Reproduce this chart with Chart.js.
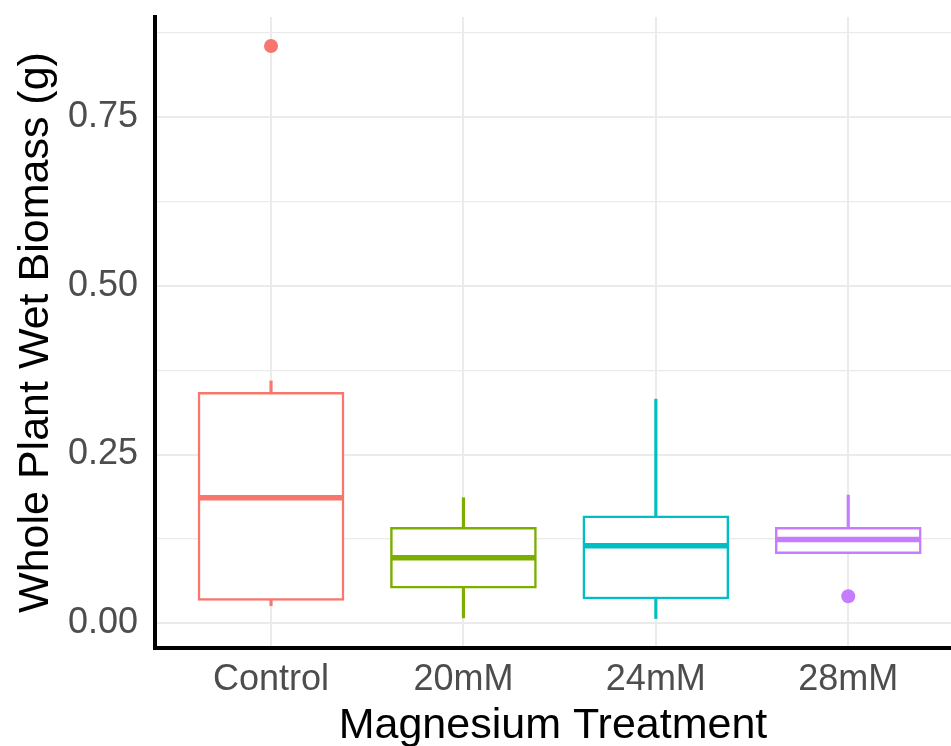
<!DOCTYPE html>
<html>
<head>
<meta charset="utf-8">
<script src="https://cdn.jsdelivr.net/npm/chart.js@4.4.0/dist/chart.umd.min.js"></script>
<style>
  html, body { margin: 0; padding: 0; background: #fff; }
  #wrap { width: 951px; height: 746px; position: relative; }
</style>
</head>
<body>
<div id="wrap"><canvas id="biomassChart"></canvas></div>
<script>
// boxplot stats (g)
const treatments = ['Control', '20mM', '24mM', '28mM'];
const whiskerLow = [0.026, 0.008, 0.007, 0.103];
const q1 = [0.034, 0.052, 0.036, 0.103];
const medians = [0.186, 0.097, 0.115, 0.124];
const q3 = [0.342, 0.142, 0.159, 0.142];
const whiskerHigh = [0.359, 0.186, 0.332, 0.190];
const outlierGroup = [1, 4];
const outlierValue = [0.855, 0.040];
const yTicks = [0, 0.125, 0.25, 0.375, 0.5, 0.625, 0.75, 0.875];

const colors = ['#F8766D', '#7CAE00', '#00BFC4', '#C77CFF'];
const FONT = '"Liberation Sans", Arial, Helvetica, sans-serif';

const isMajor = (v) => Math.abs(v * 4 - Math.round(v * 4)) < 1e-6;

// stop chart.js from reserving room for edge labels
const noPadding = (scale) => {
  scale.paddingLeft = 0;
  scale.paddingRight = 0;
  scale.paddingTop = 0;
  scale.paddingBottom = 0;
};

const ctx = document.getElementById('biomassChart');

new Chart(ctx, {
  type: 'bar',
  data: {
    datasets: [
      {
        // whiskers
        type: 'bar',
        data: treatments.map((t, i) => ({ x: i + 1, y: [whiskerLow[i], whiskerHigh[i]] })),
        backgroundColor: colors,
        borderWidth: 0,
        barThickness: 2.5,
        grouped: false,
        order: 4
      },
      {
        // boxes
        type: 'bar',
        data: treatments.map((t, i) => ({ x: i + 1, y: [q1[i], q3[i]] })),
        backgroundColor: '#ffffff',
        borderColor: colors,
        borderWidth: 2.5,
        borderSkipped: false,
        barThickness: 146,
        grouped: false,
        order: 3
      },
      {
        // medians
        type: 'scatter',
        data: treatments.map((t, i) => ({ x: i + 1, y: medians[i] })),
        pointStyle: 'line',
        pointRadius: 72,
        pointBorderWidth: 5.5,
        pointBorderColor: colors,
        order: 2
      },
      {
        // outliers
        type: 'scatter',
        data: outlierGroup.map((g, i) => ({ x: g, y: outlierValue[i] })),
        pointRadius: 7,
        pointBorderWidth: 0,
        pointBackgroundColor: outlierGroup.map(g => colors[g - 1]),
        order: 1
      }
    ]
  },
  options: {
    responsive: true,
    maintainAspectRatio: false,
    animation: false,
    layout: { autoPadding: false, padding: { top: 17, right: 0, left: 0, bottom: 0 } },
    plugins: {
      legend: { display: false },
      tooltip: { enabled: false }
    },
    scales: {
      x: {
        type: 'linear',
        min: 0.397,
        max: 4.534,
        offset: false,
        afterBuildTicks: (axis) => {
          axis.ticks = treatments.map((t, i) => ({ value: i + 1 }));
        },
        afterFit: (scale) => { scale.height = 98; noPadding(scale); },
        grid: { color: '#EBEBEB', lineWidth: 2, drawTicks: false, offset: false },
        border: { display: true, color: '#000000', width: 4 },
        ticks: {
          padding: 10,
          color: '#4D4D4D',
          font: { family: FONT, size: 36 },
          maxRotation: 0,
          autoSkip: false,
          callback: (value) => treatments[Math.round(value) - 1]
        },
        title: {
          display: true,
          text: 'Magnesium Treatment',
          color: '#000000',
          font: { family: FONT, size: 43 },
          padding: { top: 0, bottom: -6 }
        }
      },
      y: {
        min: -0.0366,
        max: 0.898,
        afterBuildTicks: (axis) => {
          axis.ticks = yTicks.map(v => ({ value: v }));
        },
        afterFit: (scale) => { scale.width = 155; noPadding(scale); },
        grid: {
          color: '#EBEBEB',
          lineWidth: (c) => (c.tick && isMajor(c.tick.value) ? 2 : 1.2),
          drawTicks: false
        },
        border: { display: true, color: '#000000', width: 4 },
        ticks: {
          padding: 17,
          color: '#4D4D4D',
          font: { family: FONT, size: 36 },
          autoSkip: false,
          callback: (value) => (isMajor(value) ? value.toFixed(2) : '')
        },
        title: {
          display: true,
          text: 'Whole Plant Wet Biomass (g)',
          color: '#000000',
          font: { family: FONT, size: 43 },
          padding: { top: 10, bottom: 0 }
        }
      }
    }
  }
});
</script>
</body>
</html>
